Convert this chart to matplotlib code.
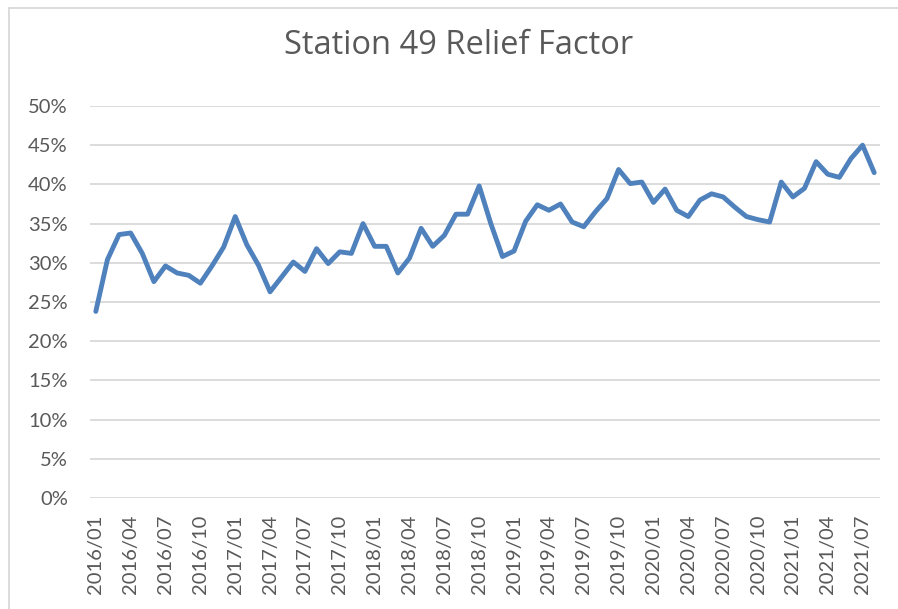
import matplotlib
matplotlib.use("Agg")
import matplotlib.pyplot as plt
from matplotlib.ticker import PercentFormatter, FixedLocator, MultipleLocator
from matplotlib.lines import Line2D

title = "Station 49 Relief Factor"
start_year, start_month = 2016, 1
values = [
    23.8, 30.4, 33.6, 33.8, 31.2, 27.6, 29.6, 28.7, 28.4, 27.4, 29.6, 32.0,
    35.9, 32.3, 29.7, 26.3, 28.2, 30.1, 28.9, 31.8, 29.9, 31.4, 31.2, 35.0,
    32.1, 32.1, 28.7, 30.6, 34.4, 32.1, 33.5, 36.2, 36.2, 39.8, 35.0, 30.8,
    31.5, 35.3, 37.4, 36.7, 37.5, 35.2, 34.6, 36.5, 38.2, 41.9, 40.1, 40.3,
    37.7, 39.4, 36.7, 35.9, 38.0, 38.8, 38.4, 37.1, 35.9, 35.5, 35.2, 40.3,
    38.4, 39.5, 42.9, 41.3, 40.9, 43.3, 45.0, 41.5,
]
labels = []
for i in range(len(values)):
    y = start_year + (start_month - 1 + i) // 12
    m = (start_month - 1 + i) % 12 + 1
    labels.append(f"{y}/{m:02d}")

text_color = "#595959"
grid_color = "#D9D9D9"
line_color = "#4F81BD"

plt.rcParams['font.family'] = ['Lato', 'DejaVu Sans']

fig = plt.figure(figsize=(8.98, 6.09), dpi=100)
ax = fig.add_axes([90/898, 1-498/609, 790/898, 392/609])

x = list(range(len(values)))
ax.plot(x, [v/100 for v in values], color=line_color, lw=3.5,
        solid_joinstyle='round', solid_capstyle='round', zorder=3)

ax.set_xlim(-0.5, len(values) - 0.5)
ax.set_ylim(0, 0.5)
ax.yaxis.set_major_locator(MultipleLocator(0.05))
ax.yaxis.set_major_formatter(PercentFormatter(1.0, decimals=0))
tick_idx = list(range(0, len(values), 3))
ax.xaxis.set_major_locator(FixedLocator(tick_idx))
ax.set_xticklabels([labels[i] for i in tick_idx], rotation=90)

for s in ax.spines.values():
    s.set_visible(False)
ax.grid(axis='y', color=grid_color, lw=1.3, zorder=0)
ax.tick_params(axis='both', length=0, labelsize=14.5, colors=text_color)
ax.tick_params(axis='y', pad=16)
ax.tick_params(axis='x', pad=12)
ax.set_axisbelow(True)

fig.text(458.5/898, 1-45/609, title, ha='center', va='center',
         fontsize=23.5, color=text_color, family=['Open Sans', 'DejaVu Sans'])

# chart border (left and top edges visible)
fig.add_artist(Line2D([8.5/898, 8.5/898], [0, 1-7.5/609], transform=fig.transFigure,
                      color=grid_color, lw=1.3))
fig.add_artist(Line2D([8.5/898, 1], [1-7.5/609, 1-7.5/609], transform=fig.transFigure,
                      color=grid_color, lw=1.3))

fig.savefig("out.png", dpi=100)
